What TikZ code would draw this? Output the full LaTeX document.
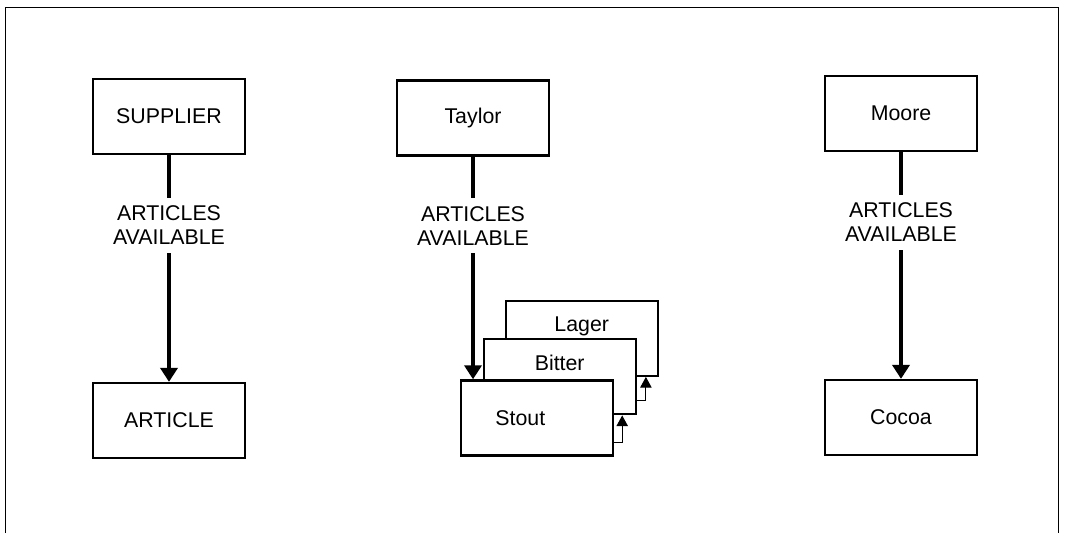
\documentclass[tikz,border=0pt]{standalone}
\usepackage{fontspec}
\setmainfont{Liberation Sans}
\usetikzlibrary{arrows.meta,positioning}

\begin{document}
\begin{tikzpicture}[
      x=0.75pt,y=-0.75pt,
      box/.style={draw,line width=1.8pt,fill=white,inner sep=0pt,
        minimum width=114pt,minimum height=56.25pt,
        font=\fontsize{16}{18}\selectfont},
      behind/.style={box,text depth=21pt},
      flow/.style={line width=3pt,-{Triangle[length=10.5pt,width=12.75pt]}},
      next/.style={line width=0.75pt,-{Triangle[length=8pt,width=8.5pt]}},
      lbl/.style={fill=white,align=center,inner xsep=2pt,inner ysep=6pt,
        font=\fontsize{16}{18}\selectfont},
    ]
    \useasboundingbox (0,0) rectangle (1067,533);
    \draw [line width=0.75pt] (5,533) -- (5,7) -- (1058,7) -- (1058,533);
    %
    \node (supplier) [box] at (169,116.5) {SUPPLIER};
    \node (article) [box,below=170pt of supplier] {ARTICLE};
    \draw [flow] (supplier.south) -- (article.north)
      node [pos=.31,lbl] {ARTICLES\\AVAILABLE};
    %
    \node (taylor) [box] at (473,118) {Taylor};
    \node (lager) [behind] at (581.7,338.2) {Lager};
    \node (bitter) [behind] at (559.7,376.7) {Bitter};
    \node (stout) [box] at (537,418) {Stout\hspace*{25pt}};
    \draw [flow] (taylor.south) -- (taylor.south |- stout.north)
      node [pos=.31,lbl] {ARTICLES\\AVAILABLE};
    %
    \draw [next] ([yshift=11pt]stout.south east) -| ([xshift=6pt]stout.east |- bitter.south);
    \draw [next] ([yshift=11pt]bitter.south east) -| ([xshift=6.75pt]bitter.east |- lager.south);
    %
    \node (moore) [box] at (901,113.5) {Moore};
    \node (cocoa) [box,below=170pt of moore] {Cocoa};
    \draw [flow] (moore.south) -- (cocoa.north)
      node [pos=.31,lbl] {ARTICLES\\AVAILABLE};
    %
  \end{tikzpicture}
\end{document}
